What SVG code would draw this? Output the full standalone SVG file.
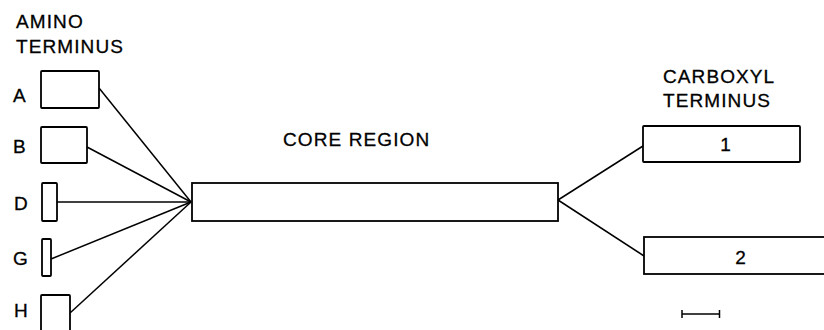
<svg xmlns="http://www.w3.org/2000/svg" width="824" height="330" viewBox="0 0 824 330">
<style>
.box{fill:#fff;stroke:#000;stroke-width:1.8}
.ln{stroke:#000;stroke-width:1.5;fill:none}
text{font-family:"Liberation Sans",Arial,sans-serif;font-size:19px;fill:#000;stroke:#000;stroke-width:0.3;letter-spacing:1.1px}
</style>
<rect width="824" height="330" fill="#fff"/>
<text x="16" y="28">AMINO</text>
<text x="16" y="53">TERMINUS</text>
<text x="283" y="146" letter-spacing="0.9">CORE REGION</text>
<text x="663" y="83">CARBOXYL</text>
<text x="663" y="107">TERMINUS</text>
<g id="connectors">
<line class="ln" x1="99" y1="88" x2="191" y2="202"/>
<line class="ln" x1="87" y1="147" x2="191" y2="202"/>
<line class="ln" x1="57" y1="202" x2="191" y2="202"/>
<line class="ln" x1="51" y1="259" x2="191" y2="202"/>
<line class="ln" x1="70" y1="313" x2="191" y2="202"/>
<line class="ln" x1="558" y1="200" x2="643" y2="146"/>
<line class="ln" x1="558" y1="200" x2="644" y2="256"/>
</g>
<g id="A"><rect class="box" x="41" y="71" width="58" height="37" rx="1"/><text x="13" y="102">A</text></g>
<g id="B"><rect class="box" x="41" y="127" width="46" height="36" rx="1"/><text x="13" y="153">B</text></g>
<g id="D"><rect class="box" x="42" y="183" width="15" height="38" rx="1"/><text x="14" y="210">D</text></g>
<g id="G"><rect class="box" x="42" y="239" width="9" height="37" rx="1"/><text x="13" y="265">G</text></g>
<g id="H"><rect class="box" x="41" y="295" width="29" height="45" rx="1"/><text x="14" y="317">H</text></g>
<g id="core"><rect class="box" x="192" y="183" width="366" height="38"/></g>
<g id="c1"><rect class="box" x="643" y="126" width="157" height="36" rx="1"/><text x="726" y="151" text-anchor="middle" letter-spacing="0">1</text></g>
<g id="c2"><rect class="box" x="644" y="237" width="200" height="37"/><text x="741" y="264" text-anchor="middle" letter-spacing="0">2</text></g>
<g id="scale">
<line class="ln" x1="682" y1="314" x2="720" y2="314" stroke-width="2"/>
<line class="ln" x1="682" y1="310" x2="682" y2="318" stroke-width="2"/>
<line class="ln" x1="719.5" y1="310" x2="719.5" y2="318" stroke-width="2"/>
</g>
</svg>
